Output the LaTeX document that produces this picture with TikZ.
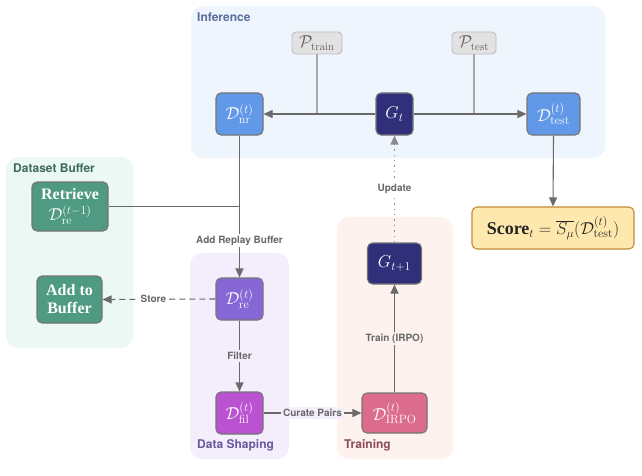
\documentclass[tikz,border=0pt]{standalone}
\usepackage[no-math]{fontspec}
\newfontfamily\hv{TeX Gyre Heros}
\newfontfamily\tms{Liberation Serif}
\usetikzlibrary{arrows.meta}
\definecolor{infbg}{HTML}{EEF5FD}
\definecolor{dbbg}{HTML}{EBF8F3}
\definecolor{dsbg}{HTML}{F4EEFC}
\definecolor{trbg}{HTML}{FDF2EE}
\definecolor{inft}{HTML}{5B6E9C}
\definecolor{dbt}{HTML}{3E6B58}
\definecolor{dst}{HTML}{6A58A0}
\definecolor{trt}{HTML}{8A4B5C}
\definecolor{blueN}{HTML}{6199E8}
\definecolor{navyN}{HTML}{2F3079}
\definecolor{tealN}{HTML}{4E9A82}
\definecolor{purpN}{HTML}{8767D6}
\definecolor{magN}{HTML}{BB52D2}
\definecolor{pinkN}{HTML}{DC6C8E}
\definecolor{scoreF}{HTML}{FEE8AE}
\definecolor{scoreD}{HTML}{C4883A}
\definecolor{pF}{HTML}{E2E2E2}
\definecolor{pD}{HTML}{BDBDBD}
\definecolor{pT}{HTML}{606060}
\definecolor{nodeD}{HTML}{757575}
\definecolor{lineG}{HTML}{6A6A6A}
\definecolor{lineL}{HTML}{A8A8A8}
\definecolor{lineD}{HTML}{8C8C8C}
\definecolor{lblG}{HTML}{686868}
\tikzset{
  panel/.style={rounded corners=12pt, draw=none},
  ptitle/.style={font=\hv\bfseries\fontsize{12}{14}\selectfont, anchor=west, inner sep=0pt},
  box/.style={rounded corners=5pt, draw=nodeD, line width=1.1pt, inner sep=0pt, text=white,
    font=\fontsize{18}{20}\selectfont, align=center},
  pbox/.style={rounded corners=4pt, draw=pD, fill=pF, line width=0.9pt, inner sep=0pt, text=pT,
    font=\fontsize{16}{18}\selectfont, minimum height=22pt},
  lbl/.style={font=\hv\bfseries\fontsize{10}{12}\selectfont, text=lblG, inner sep=2pt},
  conn/.style={draw=lineG, line width=1.1pt},
  arr/.style={conn, -{Triangle[length=9pt,width=8pt]}},
}
\begin{document}
\begin{tikzpicture}[x=1pt,y=-1pt]
\path[use as bounding box, fill=white] (0,0) rectangle (642,476);
% panels
\fill[panel, infbg] (191,6) rectangle (605,158);
\fill[panel, dbbg] (6,157) rectangle (133,348);
\fill[panel, dsbg] (190,253) rectangle (289,459);
\fill[panel, trbg] (337,217) rectangle (453,459);
\node[ptitle, text=inft] (tinf) at (197,17) {Inference};
\node[ptitle, text=dbt] (tdb) at (13,168) {Dataset Buffer};
\node[ptitle, text=dst] (tds) at (197,445) {Data Shaping};
\node[ptitle, text=trt] (ttr) at (344,445) {Training};
% nodes
\node[pbox, minimum width=50pt] (ptrain) at (317,43) {$\mathcal{P}_{\mathrm{train}}$};
\node[pbox, minimum width=44pt] (ptest) at (474,43) {$\mathcal{P}_{\mathrm{test}}$};
\node[box, fill=blueN, minimum width=47pt, minimum height=42pt] (nr) at (239.5,114) {$\mathcal{D}^{(t)}_{\mathrm{nr}}$};
\node[box, fill=navyN, minimum width=37pt, minimum height=42pt] (gt) at (394.5,114) {$G_t$};
\node[box, fill=blueN, minimum width=53pt, minimum height=42pt] (dtest) at (553.5,114) {$\mathcal{D}^{(t)}_{\mathrm{test}}$};
\node[box, fill=tealN, minimum width=76pt, minimum height=49pt] (ret) at (70,206.5) {{\tms\bfseries\fontsize{16}{16}\selectfont Retrieve}\\[1pt]$\mathcal{D}^{(t-1)}_{\mathrm{re}}$};
\node[box, fill=tealN, minimum width=65pt, minimum height=47pt, font=\tms\bfseries\fontsize{16}{18}\selectfont] (add) at (69.5,299.5) {Add to\\Buffer};
\node[box, fill=purpN, minimum width=47pt, minimum height=42pt] (re) at (239.5,299) {$\mathcal{D}^{(t)}_{\mathrm{re}}$};
\node[box, fill=magN, minimum width=47pt, minimum height=42pt] (fil) at (239.5,413) {$\mathcal{D}^{(t)}_{\mathrm{fil}}$};
\node[box, fill=pinkN, minimum width=65pt, minimum height=40pt] (irpo) at (394.5,413) {$\mathcal{D}^{(t)}_{\mathrm{IRPO}}$};
\node[box, fill=navyN, minimum width=54pt, minimum height=41pt] (gt1) at (394.5,263.5) {$G_{t+1}$};
\node[box, fill=scoreF, draw=scoreD, text=black!85, minimum width=162pt, minimum height=42pt] (score) at (553,228)
  {{\tms\bfseries Score}$_t = \overline{S_\mu}(\mathcal{D}^{(t)}_{\mathrm{test}})$};
% connectors
\draw[conn, draw=lineL] (ptrain.south) -- (ptrain.south |- gt.west);
\draw[conn, draw=lineL] (ptest.south) -- (ptest.south |- gt.east);
\draw[arr] (gt.west) -- (nr.east);
\draw[arr] (gt.east) -- (dtest.west);
\draw[arr] (nr.south) -- node[lbl, fill=white, pos=0.74] (lrep) {Add Replay Buffer} (re.north);
\draw[conn] (ret.east) -- (ret.east -| nr.south);
\draw[arr, dashed, dash pattern=on 6pt off 4pt] (re.west) -- node[lbl, fill=white, pos=0.55] (lsto) {Store} (add.east);
\draw[arr] (re.south) -- node[lbl, fill=dsbg, pos=0.5] (lfil) {Filter} (fil.north);
\draw[arr] (fil.east) -- node[lbl, fill=dsbg, rounded corners=3pt, pos=0.5] (lcur) {Curate Pairs} (irpo.west);
\draw[arr] (irpo.north) -- node[lbl, fill=trbg, pos=0.5] (ltr) {Train (IRPO)} (gt1.south);
\draw[arr, draw=lineD, dash pattern=on 1.4pt off 4pt, line width=1.4pt] (gt1.north) -- node[lbl, fill=white, pos=0.5, solid] (lupd) {Update} (gt.south);
\draw[arr] (dtest.south) -- (score.north);
\end{tikzpicture}
\end{document}
